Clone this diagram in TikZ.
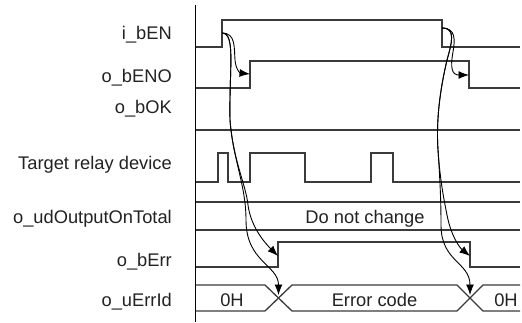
\documentclass[tikz,border=0pt]{standalone}
\usepackage{fontspec}
\setmainfont{Liberation Sans}
\usetikzlibrary{arrows.meta}
\definecolor{sigc}{HTML}{3A3A3A}
\definecolor{txtc}{HTML}{222222}
\begin{document}
\begin{tikzpicture}[x=1pt,y=-1pt,
  sig/.style={draw=sigc, line width=1.3pt, line join=miter},
  ax/.style={draw=black, line width=1.2pt},
  flow/.style={draw=black, line width=0.9pt, -{Latex[length=10.5pt,width=8pt]}},
  lbl/.style={anchor=base east, inner sep=0pt, font=\fontsize{18.3}{20}\selectfont, text=txtc},
  txt/.style={anchor=base, inner sep=0pt, font=\fontsize{18.3}{20}\selectfont, text=txtc}]
\useasboundingbox (0,0) rectangle (522,322);

% labels
\node[lbl] (l1) at (172,39.5) {i\_bEN};
\node[lbl] (l2) at (172,82) {o\_bENO};
\node[lbl] (l3) at (172,113) {o\_bOK};
\node[lbl] (l4) at (172,169.5) {Target relay device};
\node[lbl] (l5) at (172,223) {o\_udOutputOnTotal};
\node[lbl] (l6) at (172,266.5) {o\_bErr};
\node[lbl] (l7) at (172,306) {o\_uErrId};

% axis
\draw[ax] (195.5,5) -- (195.5,322);

% i_bEN
\draw[sig] (195.5,47) -- (222,47) -- (222,20) -- (442,20) -- (442,47) -- (520,47);
% o_bENO
\draw[sig] (195.5,88) -- (250,88) -- (250,61) -- (469,61) -- (469,88) -- (520,88);
% o_bOK
\draw[sig] (195.5,130) -- (520,130);
% Target relay device
\draw[sig] (195.5,182) -- (218,182) -- (218,153) -- (228,153) -- (228,182) -- (250,182) -- (250,153)
  -- (305,153) -- (305,182) -- (371,182) -- (371,153) -- (393,153) -- (393,182) -- (520,182);
% o_udOutputOnTotal
\draw[sig] (195.5,202) -- (520,202);
\draw[sig] (195.5,230) -- (520,230);
\node[txt] (dnc) at (365,223) {Do not change};
% o_bErr
\draw[sig] (195.5,267) -- (278,267) -- (278,242) -- (470,242) -- (470,267) -- (520,267);
% o_uErrId bus
\draw[sig] (195.5,285) -- (265,285) -- (292,311) -- (457,311) -- (483,285) -- (520,285);
\draw[sig] (195.5,311) -- (265,311) -- (292,285) -- (457,285) -- (483,311) -- (520,311);
\node[txt] (v0) at (232,306) {0H};
\node[txt] (v1) at (374.5,306) {Error code};
\node[txt] (v2) at (506,306) {0H};

% connection points
\coordinate (s1) at (222,33);
\coordinate (e1) at (250,74);
\coordinate (r1) at (278,256);
\coordinate (x1) at (278.5,295);
\coordinate (s2) at (442,28);
\coordinate (e2) at (469,75);
\coordinate (r2) at (470,256);
\coordinate (x2) at (470,295);

% flows, first edge
\draw[flow] (s1) .. controls (236,33) and (234,48) .. (235,60) .. controls (236,70) and (240,73) .. (e1);
\draw[flow] (s1) .. controls (236,33) and (229,70) .. (230,120) .. controls (233,160) and (246,185) .. (248,205) .. controls (251,228) and (266,244) .. (r1);
\draw[flow] (s1) .. controls (236,33) and (229,70) .. (230,120) .. controls (233,160) and (246,185) .. (246,220) .. controls (246,262) and (278.5,265) .. (x1);

% flows, second edge
\draw[flow] (s2) .. controls (456,28) and (455,40) .. (453,52) .. controls (450,68) and (452,75) .. (e2);
\draw[flow] (s2) .. controls (456,28) and (452,42) .. (447,60) .. controls (440,90) and (436,120) .. (438,150) .. controls (440,180) and (444,200) .. (447,215) .. controls (451,236) and (460,248) .. (r2);
\draw[flow] (s2) .. controls (456,28) and (452,42) .. (447,60) .. controls (440,90) and (436,120) .. (438,150) .. controls (440,180) and (441,200) .. (441,225) .. controls (441,262) and (470,262) .. (x2);
\end{tikzpicture}
\end{document}
